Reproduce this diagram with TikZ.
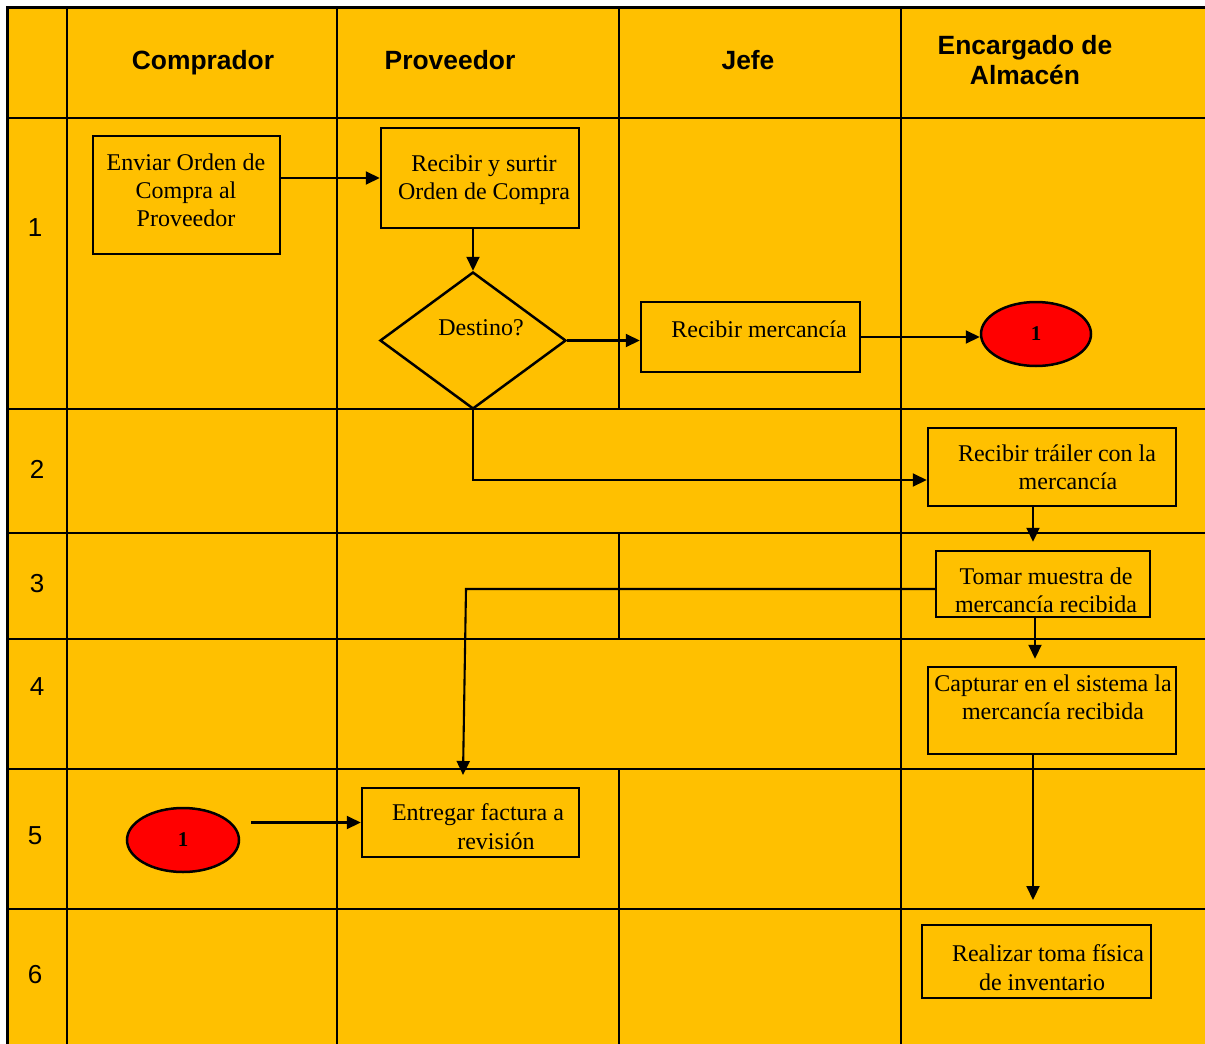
\documentclass[tikz,border=0pt]{standalone}
\usepackage{fontspec}
\setmainfont{Liberation Serif}
\newfontfamily\arialf{Liberation Sans}
\usetikzlibrary{shapes.geometric,arrows.meta,calc}
\definecolor{bgc}{HTML}{FFC000}
\definecolor{redc}{HTML}{FF0000}
\begin{document}
\begin{tikzpicture}[x=0.5pt,y=-0.5pt,
  box/.style={draw=black, line width=1.25pt, rectangle, inner sep=0pt},
  oval/.style={draw=black, line width=1.25pt, ellipse, fill=redc, inner sep=0pt, font=\bfseries\fontsize{10.5}{12}\selectfont},
  txt/.style={font=\fontsize{12}{14}\selectfont, align=center, inner sep=0pt},
  hdr/.style={font=\arialf\bfseries\fontsize{13.2}{15}\selectfont, inner sep=0pt, align=center},
  num/.style={font=\arialf\fontsize{13}{15}\selectfont, inner sep=0pt},
  arr/.style={line width=1.05pt, -{Triangle[length=7pt,width=6.5pt]}},
  gline/.style={line width=0.75pt},
]
\useasboundingbox (0,0) rectangle (1205,1044);
\fill[bgc] (7,7) rectangle (1205,1044);
% horizontal grid lines
\draw[line width=1.5pt] (6,7) -- (1205,7);
\draw[line width=1.2pt] (7,118) -- (1205,118);
\foreach \yy in {409,533,769,909} \draw[gline] (7,\yy) -- (1205,\yy);
\draw[line width=1.1pt] (7,639) -- (1205,639);
% vertical grid lines
\draw[line width=1.5pt] (7,6) -- (7,1044);
\draw[line width=1.2pt] (67,7) -- (67,1044);
\draw[line width=0.9pt] (337,7) -- (337,1044);
\draw[line width=0.9pt] (901,7) -- (901,1044);
\draw[line width=0.9pt] (619,7) -- (619,409) (619,533) -- (619,639) (619,769) -- (619,1044);
% headers
\node[hdr] (h1) at (203,63) {Comprador};
\node[hdr] (h2) at (450,60) {Proveedor};
\node[hdr] (h3) at (748,60) {Jefe};
\node[hdr] (h4) at (1025,60) {Encargado de\\Almacén};
% row numbers
\node[num] (r1) at (35,228) {1};
\node[num] (r2) at (37,469) {2};
\node[num] (r3) at (37,584) {3};
\node[num] (r4) at (37,687) {4};
\node[num] (r5) at (35,836) {5};
\node[num] (r6) at (35,975) {6};
% process boxes
\node[box, minimum width=93.5pt, minimum height=59pt] (env) at (186.5,195) {};
\node[txt] (envt) at (186,190) {Enviar Orden de\\Compra al\\Proveedor};
\node[box, minimum width=99pt, minimum height=50pt] (rys) at (480,178) {};
\node[txt] (rryst) at (484,180) {Recibir y surtir\\Orden de Compra};
\node[draw, line width=1.25pt, diamond, inner sep=0pt, minimum width=93pt, minimum height=68.5pt] (dest) at (473,340.5) {};
\node[txt] (destt) at (481,328) {Destino?};
\node[box, minimum width=109.5pt, minimum height=35pt] (rm) at (750.5,337) {};
\node[txt] (rmt) at (759,329) {Recibir mercancía};
\node[oval, minimum width=55pt, minimum height=32pt] (c1) at (1036,334) {1};
\node[box, minimum width=124pt, minimum height=39pt] (rt) at (1052,467) {};
\node[txt] (rta) at (1057,453) {Recibir tráiler con la};
\node[txt] (rtb) at (1068,481) {mercancía};
\node[box, minimum width=107pt, minimum height=33pt] (tm) at (1043,584) {};
\node[txt] (tmt) at (1046,590) {Tomar muestra de\\mercancía recibida};
\node[box, minimum width=124pt, minimum height=43.5pt] (cap) at (1052,710.5) {};
\node[txt] (capt) at (1053,697) {Capturar en el sistema la\\mercancía recibida};
\node[box, minimum width=114.5pt, minimum height=36.5pt] (real) at (1036.5,961.5) {};
\node[txt] (reala) at (1048,953) {Realizar toma física};
\node[txt] (realb) at (1042,982) {de inventario};
\node[box, minimum width=108.5pt, minimum height=34.5pt] (ent) at (470.5,822.5) {};
\node[txt] (enta) at (478,815) {Entregar factura a};
\node[txt] (entb) at (496,841) {revisión};
\node[oval, minimum width=56pt, minimum height=32pt] (c2) at (183,840) {1};
% helper coordinates
\coordinate (xa) at (1033,0);
\coordinate (xb) at (1035,0);
\coordinate (ya) at (0,480);
\coordinate (capend) at (1033,900);
\coordinate (k1) at (466,589);
\coordinate (k2) at (463,775);
\coordinate (c2o) at ([xshift=5.5pt]c2.east);
% connectors
\draw[arr] (env.east |- rys.west) -- (rys.west);
\draw[arr] (rys.south -| dest.north) -- (dest.north);
\draw[arr] (dest.east) -- (rm.west |- dest.east);
\draw[arr] (rm.east) -- (rm.east -| c1.west);
\draw[arr] (dest.south) |- (rt.west |- ya);
\draw[arr, shorten >=4pt] (rt.south -| xa) -- (tm.north -| xa);
\draw[arr, shorten >=3.5pt] (tm.south -| xb) -- (cap.north -| xb);
\draw[arr] (cap.south -| xa) -- (capend);
\draw[arr] (tm.west |- k1) -- (k1) -- (k2);
\draw[arr] (c2o |- ent.west) -- (ent.west);
\end{tikzpicture}
\end{document}
